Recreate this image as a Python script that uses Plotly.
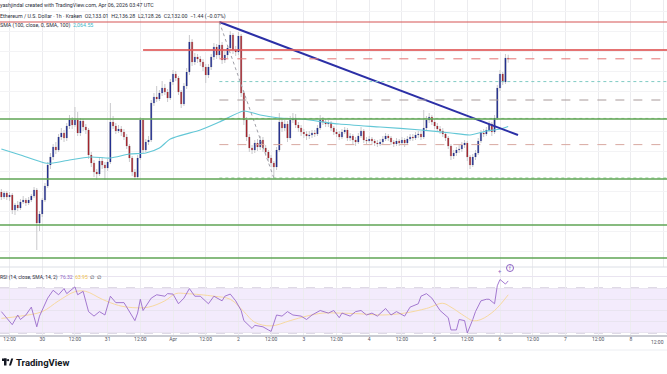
import pandas as pd
import plotly.graph_objects as go

# ---------------- data (ETH/USD, 1h, Kraken) ----------------
start_time = "2026-03-29 09:00"
first_open = 1999
closes = [1994, 1998, 1994, 1996, 1981, 1986, 1983, 1989, 1991, 1988,
          1991, 1995, 2001, 1968, 1977, 1991, 2005, 2026, 2034, 2044,
          2041, 2054, 2058, 2053, 2065, 2071, 2066, 2071, 2058, 2070,
          2064, 2061, 2036, 2028, 2019, 2017, 2030, 2026, 2023, 2029,
          2069, 2065, 2060, 2062, 2059, 2054, 2045, 2033, 2019, 2014,
          2033, 2071, 2041, 2049, 2051, 2088, 2094, 2092, 2098, 2103,
          2099, 2093, 2109, 2117, 2113, 2099, 2087, 2105, 2119, 2149,
          2129, 2134, 2132, 2129, 2124, 2116, 2124, 2134, 2144, 2136,
          2146, 2131, 2136, 2143, 2156, 2141, 2139, 2155, 2098, 2071,
          2054, 2043, 2041, 2048, 2044, 2051, 2043, 2039, 2033, 2028,
          2024, 2041, 2069, 2063, 2067, 2053, 2071, 2073, 2066, 2063,
          2059, 2057, 2055, 2056, 2058, 2057, 2063, 2071, 2069, 2067,
          2068, 2063, 2059, 2057, 2054, 2059, 2061, 2053, 2055, 2051,
          2049, 2055, 2060, 2051, 2050, 2052, 2050, 2048, 2047, 2049,
          2052, 2055, 2053, 2049, 2047, 2050, 2048, 2051, 2048, 2052,
          2054, 2053, 2056, 2057, 2054, 2063, 2071, 2074, 2069, 2065,
          2062, 2060, 2057, 2053, 2045, 2035, 2038, 2041, 2042, 2046,
          2048, 2034, 2026, 2034, 2038, 2050, 2058, 2057, 2061, 2067,
          2059, 2073, 2103, 2117, 2109, 2133.01, 2132.00]
highs = [2002, 2000, 2000, 1999, 1998, 1988, 1990, 1992, 1995, 1993,
         1994, 1997, 2004, 2003, 1980, 1993, 2008, 2029, 2038, 2047,
         2049, 2057, 2063, 2061, 2068, 2076, 2074, 2084, 2079, 2073,
         2072, 2067, 2063, 2039, 2031, 2022, 2033, 2034, 2029, 2032,
         2088, 2075, 2068, 2066, 2065, 2062, 2057, 2047, 2035, 2022,
         2036, 2074, 2073, 2052, 2055, 2091, 2098, 2105, 2101, 2110,
         2107, 2102, 2112, 2121, 2120, 2115, 2101, 2108, 2123, 2156,
         2152, 2138, 2137, 2135, 2132, 2127, 2127, 2137, 2148, 2147,
         2169, 2149, 2140, 2146, 2160, 2158, 2145, 2159, 2157, 2100,
         2074, 2057, 2046, 2051, 2052, 2055, 2054, 2046, 2041, 2036,
         2030, 2044, 2078, 2072, 2071, 2070, 2075, 2078, 2077, 2069,
         2066, 2062, 2060, 2060, 2061, 2061, 2066, 2076, 2074, 2072,
         2071, 2070, 2065, 2062, 2060, 2062, 2064, 2063, 2058, 2057,
         2054, 2058, 2064, 2062, 2054, 2055, 2054, 2052, 2051, 2052,
         2055, 2058, 2057, 2055, 2051, 2053, 2052, 2054, 2053, 2055,
         2057, 2057, 2059, 2060, 2060, 2081, 2075, 2078, 2076, 2072,
         2068, 2065, 2063, 2059, 2055, 2047, 2041, 2044, 2046, 2049,
         2051, 2050, 2036, 2037, 2041, 2053, 2061, 2062, 2064, 2070,
         2069, 2076, 2106, 2121, 2119, 2137, 2136.28]
lows = [1991, 1992, 1991, 1990, 1977, 1976, 1980, 1981, 1987, 1985,
        1986, 1989, 1993, 1941, 1960, 1974, 1989, 2003, 2022, 2031,
        2037, 2039, 2051, 2049, 2050, 2062, 2062, 2064, 2055, 2055,
        2060, 2057, 2032, 2024, 2014, 2011, 2015, 2022, 2011, 2020,
        2027, 2062, 2057, 2058, 2055, 2051, 2042, 2029, 2015, 2011,
        2012, 2031, 2038, 2039, 2046, 2049, 2085, 2089, 2090, 2095,
        2096, 2089, 2091, 2106, 2110, 2096, 2083, 2085, 2102, 2116,
        2125, 2126, 2128, 2125, 2120, 2108, 2113, 2121, 2131, 2132,
        2133, 2127, 2128, 2133, 2140, 2137, 2135, 2136, 2094, 2066,
        2050, 2039, 2037, 2038, 2040, 2041, 2039, 2035, 2029, 2024,
        2013, 2021, 2039, 2059, 2060, 2049, 2051, 2068, 2063, 2059,
        2055, 2053, 2051, 2052, 2053, 2054, 2055, 2061, 2066, 2064,
        2064, 2060, 2056, 2054, 2051, 2052, 2057, 2050, 2050, 2047,
        2045, 2047, 2053, 2048, 2047, 2048, 2047, 2045, 2044, 2045,
        2047, 2050, 2050, 2046, 2044, 2045, 2045, 2046, 2044, 2046,
        2050, 2050, 2051, 2053, 2051, 2052, 2061, 2068, 2066, 2062,
        2059, 2057, 2054, 2050, 2042, 2031, 2032, 2035, 2038, 2039,
        2043, 2030, 2022, 2024, 2031, 2036, 2048, 2054, 2055, 2059,
        2055, 2057, 2071, 2100, 2106, 2107, 2128.26]

# SMA(100) at hourly candle indices
sma_idx = [0, 7, 16, 19, 25, 33, 40, 47, 53, 58, 62, 73, 80, 89, 95, 102,
           110, 124, 139, 154, 165, 172, 178, 183, 186]
sma_val = [2042, 2036, 2028, 2028, 2031, 2034, 2033, 2037, 2038, 2043, 2052,
           2061, 2069, 2080, 2076, 2073, 2072, 2067, 2064, 2061, 2058, 2056,
           2060, 2062, 2064.55]

# RSI(14)
rsi_idx = [0, 2, 4, 6, 7, 9, 11, 13, 14, 17, 19, 21, 23, 24, 27, 28, 30, 32,
           34, 36, 38, 40, 42, 45, 46, 49, 50, 51, 52, 55, 57, 60, 61, 63, 65,
           67, 69, 71, 73, 76, 78, 81, 82, 84, 86, 88, 89, 92, 93, 96, 98, 99,
           101, 103, 105, 107, 110, 112, 114, 117, 120, 122, 124, 125, 128,
           130, 132, 134, 136, 138, 141, 143, 145, 148, 150, 153, 154, 156,
           158, 160, 161, 164, 165, 167, 168, 170, 171, 173, 174, 176, 178,
           179, 181, 182, 183, 185, 186]
rsi_val = [49, 43.6, 37.4, 46, 42, 46, 53, 35.5, 45, 61, 68, 64, 69.5, 65, 71,
           64, 67, 49, 45, 49, 46, 62.7, 57, 57, 53, 41, 47.7, 60, 50, 61, 64,
           62.7, 65, 64.6, 56, 61, 69.5, 62.7, 62.7, 56, 62.7, 58.6, 62.7,
           64.6, 58.6, 50, 41, 34, 36.8, 35.5, 32.7, 31.4, 46, 45, 49, 46, 45,
           42, 46, 50, 47.7, 50, 43.6, 47.7, 45, 49, 50, 46, 47.7, 45, 51.8,
           46, 49, 45, 53, 56, 62.7, 65, 61, 53, 50, 43.6, 32.7, 32.7, 42, 41,
           30, 42, 49, 58.6, 60, 60, 56, 72, 77.6, 73.5, 76.32]
rsi_ma_idx = [0, 7, 15, 21, 27, 31, 37, 43, 48, 54, 60, 64, 68, 78, 84, 89,
              93, 99, 106, 112, 118, 124, 132, 140, 148, 156, 162, 165, 170,
              173, 176, 181, 186]
rsi_ma_val = [43, 45, 49, 58.6, 66.7, 67, 60, 54.5, 52.6, 53, 58.6, 65, 65,
              62.7, 60, 49, 39.5, 36.3, 41, 45, 47.7, 47.7, 47, 46, 47.7, 51.8,
              56.4, 53, 45, 41, 42, 50, 63.95]

# drawings
support_levels = [2072, 2012, 1966, 1933]          # green horizontals
top_resistance = 2169                               # thin red, full width
resistance = 2141                                   # thick red
resistance_start = "2026-03-31 13:00"
trend_pts_t = ["2026-04-01 17:00", "2026-04-06 06:36"]
trend_pts_p = [2169, 2056]
fib_high_t, fib_high = "2026-04-01 17:00", 2169
fib_low_t, fib_low = "2026-04-02 13:00", 2013
fib_ratios = [0.236, 0.382, 0.5, 0.618, 0.786, 1.0]
fib_colors = ["#e57373", "#80cbc4", "#a89a9a", "#9fc89a", "#d8a8a0", "#8fcf8f"]
fib_dash = ["dash", "dot", "dash", "dot", "dash", "dot"]

tick_labels = ["12:00", "30", "12:00", "31", "12:00", "Apr", "12:00", "2",
               "12:00", "3", "12:00", "4", "12:00", "5", "12:00", "6",
               "12:00", "7", "12:00", "8", "12:00"]
tick_start = "2026-03-29 12:00"
x_range = ["2026-03-29 08:30", "2026-04-08 13:17"]

# ---------------- derived ----------------
times = pd.date_range(start_time, periods=len(closes), freq="h")
opens = [first_open] + closes[:-1]
tickvals = pd.date_range(tick_start, periods=len(tick_labels), freq="12h")
x_end = x_range[1]

W, H = 667, 374
def py(p):
    return 1 - p / H
def px(p):
    return p / W

UP = "#232f8f"
DOWN = "#a3232b"
WICK = "#c9c9cc"
GRID = "#ececef"
FONT = "Roboto"

fig = go.Figure()

# wicks (gray) underneath
fig.add_trace(go.Candlestick(
    x=times, open=opens, high=highs, low=lows, close=closes,
    increasing=dict(line=dict(color=WICK, width=1), fillcolor=WICK),
    decreasing=dict(line=dict(color=WICK, width=1), fillcolor=WICK),
    whiskerwidth=0, hoverinfo="skip", xaxis="x", yaxis="y"))
# coloured bodies on top
fig.add_trace(go.Candlestick(
    x=times, open=opens, high=highs, low=lows, close=closes,
    increasing=dict(line=dict(color=UP, width=0), fillcolor=UP),
    decreasing=dict(line=dict(color=DOWN, width=0), fillcolor=DOWN),
    whiskerwidth=0, xaxis="x", yaxis="y"))

# SMA 100
fig.add_trace(go.Scatter(x=times[sma_idx], y=sma_val, mode="lines",
                         line=dict(color="#63c7d6", width=1.2, shape="spline", smoothing=0.6),
                         xaxis="x", yaxis="y", hoverinfo="skip"))
# trend line
fig.add_trace(go.Scatter(x=pd.to_datetime(trend_pts_t), y=trend_pts_p, mode="lines",
                         line=dict(color="#2b2fa6", width=2),
                         xaxis="x", yaxis="y", hoverinfo="skip"))
# fib diagonal
fig.add_trace(go.Scatter(x=pd.to_datetime([fib_high_t, fib_low_t]), y=[fib_high, fib_low],
                         mode="lines", line=dict(color="#a0a0a8", width=1, dash="dot"),
                         xaxis="x", yaxis="y", hoverinfo="skip"))

# RSI
fig.add_trace(go.Scatter(x=times[rsi_ma_idx], y=rsi_ma_val, mode="lines",
                         line=dict(color="#f7d9a0", width=1, shape="spline"),
                         xaxis="x2", yaxis="y2", hoverinfo="skip"))
fig.add_trace(go.Scatter(x=times[rsi_idx], y=rsi_val, mode="lines",
                         line=dict(color="#9a6bcb", width=0.9),
                         xaxis="x2", yaxis="y2", hoverinfo="skip"))

shapes = []
# RSI band and levels
shapes.append(dict(type="rect", xref="x2 domain", yref="y2", x0=0, x1=1, y0=30, y1=70,
                   fillcolor="rgba(160,90,230,0.12)", line=dict(width=0), layer="below"))
for lv in (70, 50, 30):
    shapes.append(dict(type="line", xref="x2 domain", yref="y2", x0=0, x1=1, y0=lv, y1=lv,
                       line=dict(color="#bcb0cc", width=1, dash="dash"), layer="below"))
# fib levels
for r, c, d in zip(fib_ratios, fib_colors, fib_dash):
    lv = fib_high - r * (fib_high - fib_low)
    shapes.append(dict(type="line", xref="x", yref="y", x0=fib_high_t, x1=x_end, y0=lv, y1=lv,
                       line=dict(color=c, width=1, dash=d)))
# green supports
for lv in support_levels:
    shapes.append(dict(type="line", xref="x domain", yref="y", x0=0, x1=1, y0=lv, y1=lv,
                       line=dict(color="#5fa455", width=1.4)))
# red resistances
shapes.append(dict(type="line", xref="x domain", yref="y", x0=0, x1=1,
                   y0=top_resistance, y1=top_resistance,
                   line=dict(color="#d65555", width=1.2)))
shapes.append(dict(type="line", xref="x", yref="y", x0=resistance_start, x1=x_end,
                   y0=resistance, y1=resistance,
                   line=dict(color="rgba(225,90,90,0.85)", width=2)))
# pane separators
shapes.append(dict(type="line", xref="paper", yref="paper", x0=0, x1=1, y0=py(267), y1=py(267),
                   line=dict(color="#dcdfe6", width=1)))
shapes.append(dict(type="line", xref="paper", yref="paper", x0=0, x1=1, y0=py(336), y1=py(336),
                   line=dict(color="#b8bbc4", width=1.5)))
shapes.append(dict(type="line", xref="paper", yref="paper", x0=0, x1=1, y0=py(350), y1=py(350),
                   line=dict(color="#eceef2", width=1)))
# alert icon on RSI pane
shapes.append(dict(type="circle", xref="paper", yref="paper",
                   x0=px(506.5), x1=px(513.5), y0=py(271.5), y1=py(264.5),
                   line=dict(color="#8e63c4", width=1)))
# TradingView logo glyph
logo_col = "#131722"
shapes.append(dict(type="rect", xref="paper", yref="paper", x0=px(2), x1=px(6.5),
                   y0=py(361), y1=py(358.5), fillcolor=logo_col, line=dict(width=0)))
shapes.append(dict(type="rect", xref="paper", yref="paper", x0=px(4), x1=px(6.5),
                   y0=py(365.5), y1=py(358.5), fillcolor=logo_col, line=dict(width=0)))
shapes.append(dict(type="circle", xref="paper", yref="paper", x0=px(7), x1=px(9.2),
                   y0=py(361.3), y1=py(359.1), fillcolor=logo_col, line=dict(width=0)))
shapes.append(dict(type="path", xref="paper", yref="paper",
                   path=f"M {px(9)},{py(365.5)} L {px(11.2)},{py(358.5)} L {px(13.2)},{py(358.5)} L {px(11)},{py(365.5)} Z",
                   fillcolor=logo_col, line=dict(width=0)))

ann = []
def text(x, y, t, size=5.3, color="#131722", anchor="left", bold=False):
    ann.append(dict(xref="paper", yref="paper", x=px(x), y=py(y),
                    text=(f"<b>{t}</b>" if bold else t),
                    showarrow=False, xanchor=anchor, yanchor="middle",
                    font=dict(family=FONT, size=size, color=color)))

text(-2, 5.5, "yashjindal created with TradingView.com, Apr 06, 2026 03:47 UTC", color="#2a2e39")
text(-2, 16.5, "Ethereum / U.S. Dollar · 1h · Kraken  O2,133.01  H2,136.28  L2,128.26  C2,132.00  −1.44 (−0.07%)",
     color="#2a2e39")
text(-2, 25.5, "SMA (100, close, 0, SMA, 100)  <span style='color:#3fb6c8'>2,064.55</span>", color="#2a2e39")
text(-2, 277.5, "RSI (14, close, SMA, 14, 2)  <span style='color:#8e63c4'>76.32</span>  "
     "<span style='color:#f0c04a'>63.95</span>  ∅  ∅", size=5, color="#2a2e39")
text(504, 270, "+", size=6, color="#8e63c4", anchor="right")
text(510, 268, "f", size=5, color="#8e63c4", anchor="center")
text(14, 362, "TradingView", size=9.5, color=logo_col, bold=True)
# last tick label kept fully inside the right edge
text(666, 341.5, tick_labels[-1], size=5, color="#50535e", anchor="right")

fig.update_layout(
    width=W, height=H, margin=dict(l=0, r=0, t=0, b=0),
    paper_bgcolor="white", plot_bgcolor="white", showlegend=False,
    font=dict(family=FONT),
    shapes=shapes, annotations=ann,
    xaxis=dict(domain=[0, 1], anchor="y", range=x_range, tickvals=tickvals, showticklabels=False,
               showgrid=True, gridcolor=GRID, gridwidth=1, zeroline=False, showline=False,
               rangeslider=dict(visible=False), ticks=""),
    yaxis=dict(domain=[py(267), 1], range=[1924, 2191], showticklabels=False, showgrid=True,
               gridcolor="#f3f3f5", dtick=20, tick0=2000, zeroline=False, ticks=""),
    xaxis2=dict(domain=[0, 1], anchor="y2", matches="x", range=x_range, tickvals=tickvals[:-1],
                ticktext=tick_labels[:-1], showgrid=True, gridcolor=GRID, zeroline=False,
                showline=False, ticks="", tickfont=dict(family=FONT, size=5, color="#50535e"),
                rangeslider=dict(visible=False)),
    yaxis2=dict(domain=[py(335), py(267)], range=[28.2, 88.7], showticklabels=False,
                showgrid=True, gridcolor="#e9e4f0", dtick=10, tick0=0, zeroline=False, ticks=""),
)

fig.write_html("out.html", config={"displayModeBar": False},
               post_script="document.body.style.margin='0';document.body.style.overflow='hidden';")
